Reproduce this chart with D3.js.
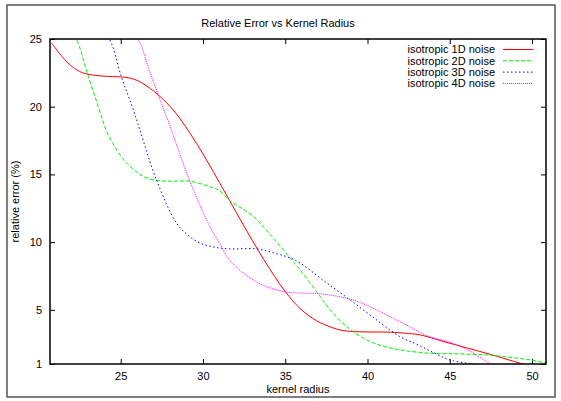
<!DOCTYPE html>
<html><head><meta charset="utf-8">
<script src="https://cdn.jsdelivr.net/npm/d3@7"></script>
<style>body{margin:0;background:#fff}svg{display:block}text{font-family:"Liberation Sans",Arial,sans-serif;fill:#000}</style>
</head><body><div id="chart"></div>
<script>
const xTicks = [25, 30, 35, 40, 45, 50];
const yTicks = [1, 5, 10, 15, 20, 25];
const seriesNames = ["isotropic 1D noise", "isotropic 2D noise", "isotropic 3D noise", "isotropic 4D noise"];
const x1D = [20.8, 21.3, 21.9, 22.5, 23.0, 24.0, 25.0, 25.6, 26.3, 27.3, 28.3, 29.6, 31.0, 32.3, 33.7, 35.0, 35.9, 36.9, 37.9, 38.5, 39.5, 40.5, 41.4, 42.5, 43.2, 44.5, 46.0, 47.5, 49.3, 50.3];
const y1D = [24.7, 23.9, 23.1, 22.6, 22.4, 22.25, 22.2, 22.1, 21.75, 20.85, 19.6, 17.3, 14.4, 11.6, 8.7, 6.35, 5.1, 4.2, 3.67, 3.47, 3.38, 3.36, 3.35, 3.25, 3.15, 2.7, 2.2, 1.7, 1.05, 0.75];
const x2D = [21.9, 22.3, 23.0, 23.8, 24.1, 24.5, 25.1, 25.75, 26.3, 26.96, 28.0, 29.2, 30.4, 31.0, 31.6, 33.05, 34.2, 35.3, 35.9, 36.9, 37.9, 38.9, 39.95, 41.0, 42.0, 43.8, 45.5, 47.2, 48.6, 49.9, 50.9];
const y2D = [25.6, 25.0, 22.35, 19.4, 18.3, 17.35, 16.2, 15.4, 14.9, 14.6, 14.5, 14.5, 14.1, 13.8, 13.1, 11.9, 10.4, 8.83, 7.96, 6.35, 4.76, 3.6, 2.78, 2.3, 2.04, 1.79, 1.75, 1.67, 1.5, 1.3, 1.05];
const x3D = [23.8, 24.3, 25.04, 25.7, 26.16, 27.17, 28.39, 29.1, 29.8, 30.6, 31.6, 33.25, 34.3, 35.3, 35.9, 37.4, 38.93, 40.5, 41.97, 43.0, 44.0, 45.0, 46.4, 47.0];
const y3D = [25.5, 25.0, 22.2, 20.0, 18.3, 14.6, 11.4, 10.5, 9.94, 9.65, 9.5, 9.5, 9.2, 8.83, 8.46, 7.1, 5.74, 4.3, 3.02, 2.45, 1.85, 1.3, 1.0, 0.85];
const x4D = [25.3, 26.05, 26.7, 27.3, 28.08, 28.39, 29.2, 30.4, 31.0, 31.6, 32.8, 34.0, 35.0, 35.9, 37.1, 39.1, 40.2, 41.36, 42.5, 43.8, 45.2, 46.3, 47.24, 47.6];
const y4D = [25.8, 25.0, 22.8, 20.8, 18.3, 17.2, 14.5, 11.2, 9.94, 8.7, 7.4, 6.65, 6.33, 6.24, 6.19, 5.74, 5.2, 4.5, 3.8, 3.0, 2.53, 1.9, 1.17, 0.95];

const colors = ["#ff0000", "#00ee00", "#0000ff", "#ff00ff"];
const dashes = [null, "4,2", "1.5,2.5", "1,1"];
const xs = [x1D, x2D, x3D, x4D], ys = [y1D, y2D, y3D, y4D];

const W = 561, H = 401;
const pL = 50, pR = 546, pT = 39, pB = 364;
const svg = d3.select("#chart").append("svg").attr("width", W).attr("height", H);

svg.append("rect").attr("x", 7).attr("y", 5).attr("width", 548).attr("height", 392)
  .attr("fill", "none").attr("stroke", "#555").attr("stroke-width", 1.5);

const x = d3.scaleLinear().domain([20.7, 50.85]).range([pL, pR]);
const y = d3.scaleLinear().domain([1, 25]).range([pB, pT]);

svg.append("text").attr("x", 278).attr("y", 27).attr("text-anchor", "middle")
  .attr("font-size", 11).text("Relative Error vs Kernel Radius");

const tl = 5;
const gB = svg.append("g").attr("transform", `translate(0,${pB})`)
  .call(d3.axisBottom(x).tickValues(xTicks).tickSize(-tl).tickPadding(8));
const gT = svg.append("g").attr("transform", `translate(0,${pT})`)
  .call(d3.axisTop(x).tickValues(xTicks).tickSize(-tl).tickFormat(""));
const gL = svg.append("g").attr("transform", `translate(${pL},0)`)
  .call(d3.axisLeft(y).tickValues(yTicks).tickSize(-tl).tickPadding(8));
const gR = svg.append("g").attr("transform", `translate(${pR},0)`)
  .call(d3.axisRight(y).tickValues(yTicks).tickSize(-tl).tickFormat(""));
[gB, gT, gL, gR].forEach(g => {
  g.select(".domain").remove();
  g.selectAll("line").attr("stroke", "#000").attr("stroke-width", 1);
  g.selectAll("text").attr("font-size", 11).attr("font-family", "Liberation Sans, Arial, sans-serif").attr("fill", "#000");
});

svg.append("defs").append("clipPath").attr("id", "clip").append("rect")
  .attr("x", pL).attr("y", pT).attr("width", pR - pL).attr("height", pB - pT);

const line = d3.line().x(d => x(d[0])).y(d => y(d[1])).curve(d3.curveCatmullRom.alpha(0.5));
const plot = svg.append("g").attr("clip-path", "url(#clip)");
xs.forEach((xv, i) => {
  const pts = xv.map((v, j) => [v, ys[i][j]]);
  plot.append("path").datum(pts).attr("d", line).attr("fill", "none")
    .attr("stroke", colors[i]).attr("stroke-width", 1)
    .attr("stroke-dasharray", dashes[i]);
});

svg.append("rect").attr("x", pL).attr("y", pT).attr("width", pR - pL).attr("height", pB - pT)
  .attr("fill", "none").attr("stroke", "#000").attr("stroke-width", 1.5);

const leg = svg.append("g");
seriesNames.forEach((n, i) => {
  const ly = 49.5 + i * 11.3;
  leg.append("text").attr("x", 495).attr("y", ly).attr("dy", "0.35em").attr("text-anchor", "end")
    .attr("font-size", 11).text(n);
  leg.append("line").attr("x1", 503).attr("x2", 533).attr("y1", ly).attr("y2", ly)
    .attr("stroke", colors[i]).attr("stroke-width", 1).attr("stroke-dasharray", dashes[i]);
});

svg.append("text").attr("transform", "translate(19,201.5) rotate(-90)").attr("text-anchor", "middle")
  .attr("font-size", 11).text("relative error (%)");
svg.append("text").attr("x", 298).attr("y", 393).attr("text-anchor", "middle")
  .attr("font-size", 11).text("kernel radius");
</script></body></html>
